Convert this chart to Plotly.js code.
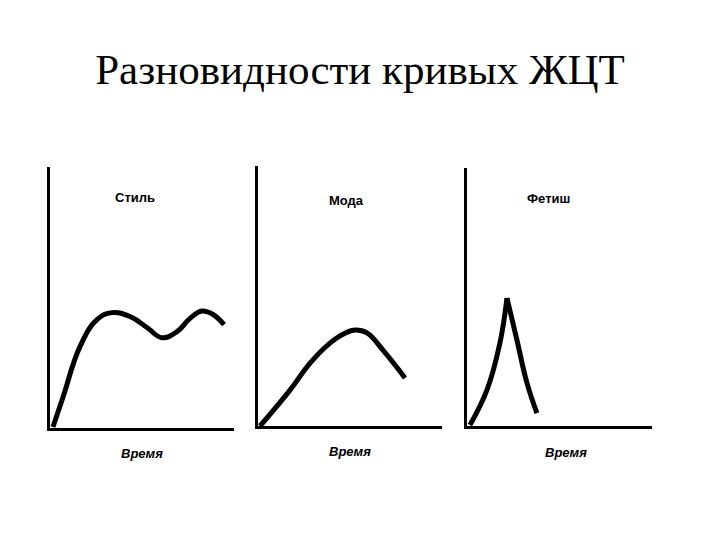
<!DOCTYPE html>
<html>
<head>
<meta charset="utf-8">
<script src="https://cdn.plot.ly/plotly-3.0.1.min.js"></script>
<style>html,body{margin:0;padding:0;background:#fff;}#chart{width:720px;height:540px;}</style>
</head>
<body>
<div id="chart"></div>
<script>
// Data (relative units: time 0-100, sales level 0-100)
var panelNames = ["Стиль", "Мода", "Фетиш"];
var axisLabel = "Время";
var chartTitle = "Разновидности кривых ЖЦТ";

var styleTime  = [1.6, 7.1, 16.3, 25.5, 33.7, 43.5, 52.7, 60.9, 69.0, 76.1, 82.6, 88.6, 94.6];
var styleLevel = [0.4, 11.9, 31.2, 41.5, 44.2, 42.7, 38.5, 34.6, 36.9, 42.0, 44.8, 43.5, 39.6];

var fashionTime  = [1.1, 17.4, 28.3, 39.1, 47.0, 53.0, 59.2, 67.9, 79.9];
var fashionLevel = [0.0, 13.8, 24.2, 31.9, 35.6, 36.9, 35.8, 29.2, 18.5];

var fadRiseTime  = [1.6, 10.8, 17.8, 21.6];
var fadRiseLevel = [0.4, 14.0, 32.2, 49.6];
var fadFallTime  = [21.6, 27.0, 32.4, 37.8];
var fadFallLevel = [49.6, 33.3, 16.7, 5.0];

var W = 720, H = 540;
function px(x){ return x / W; }
function py(y){ return 1 - y / H; }

var lineStyle = {color: "#000", width: 5, shape: "spline", smoothing: 1.2};
var traces = [
  {x: styleTime, y: styleLevel, xaxis: "x", yaxis: "y", mode: "lines", line: lineStyle, hoverinfo: "skip"},
  {x: fashionTime, y: fashionLevel, xaxis: "x2", yaxis: "y2", mode: "lines", line: lineStyle, hoverinfo: "skip"},
  {x: fadRiseTime, y: fadRiseLevel, xaxis: "x3", yaxis: "y3", mode: "lines", line: lineStyle, hoverinfo: "skip"},
  {x: fadFallTime, y: fadFallLevel, xaxis: "x3", yaxis: "y3", mode: "lines", line: lineStyle, hoverinfo: "skip"}
];

function xa(l, r, anchor){
  return {domain: [px(l), px(r)], range: [0, 100], anchor: anchor, showline: true, linecolor: "#000", linewidth: 3,
          showgrid: false, zeroline: false, showticklabels: false, ticks: "", fixedrange: true};
}
function ya(b, t, anchor){
  return {domain: [py(b), py(t)], range: [0, 100], anchor: anchor, showline: true, linecolor: "#000", linewidth: 3,
          showgrid: false, zeroline: false, showticklabels: false, ticks: "", fixedrange: true};
}

var labelFont = {family: "Liberation Sans", size: 13, color: "#000", weight: "bold"};
var timeFont = {family: "Liberation Sans", size: 13, color: "#000", weight: "bold", style: "italic"};

function ann(text, x, y, font){
  return {text: text, x: px(x), y: py(y), xref: "paper", yref: "paper", showarrow: false,
          xanchor: "center", yanchor: "middle", font: font};
}

var layout = {
  width: W, height: H,
  margin: {l: 0, r: 0, t: 0, b: 0},
  paper_bgcolor: "#fff", plot_bgcolor: "rgba(0,0,0,0)",
  showlegend: false,
  title: {text: chartTitle, font: {family: "Liberation Serif", size: 43, color: "#000"},
          x: 0.5, xanchor: "center", xref: "paper", y: py(69), yanchor: "middle", yref: "paper"},
  xaxis: xa(50, 234, "y"),   yaxis: ya(428, 167, "x"),
  xaxis2: xa(258, 442, "y2"), yaxis2: ya(426, 166, "x2"),
  xaxis3: xa(467, 652, "y3"), yaxis3: ya(426, 168, "x3"),
  annotations: [
    ann(panelNames[0], 135, 197, labelFont),
    ann(panelNames[1], 346, 200, labelFont),
    ann(panelNames[2], 548, 199, labelFont),
    ann(axisLabel, 142, 453, timeFont),
    ann(axisLabel, 350, 451, timeFont),
    ann(axisLabel, 566, 452, timeFont)
  ]
};

Plotly.newPlot("chart", traces, layout, {displayModeBar: false, staticPlot: true});
</script>
</body>
</html>
